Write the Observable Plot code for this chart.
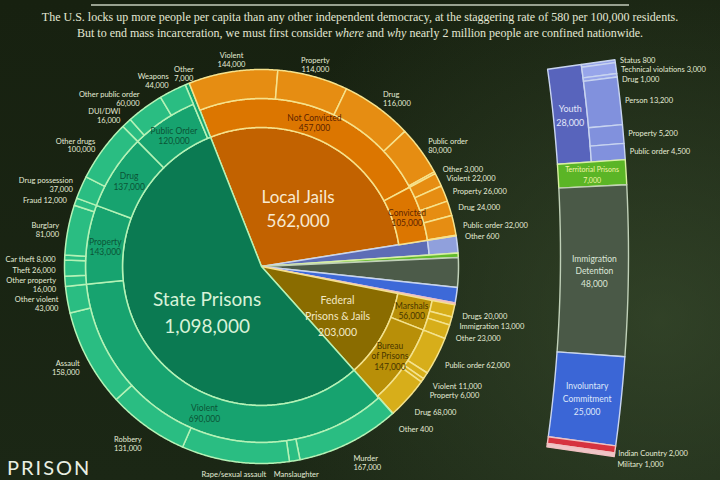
<!DOCTYPE html>
<html>
<head>
<meta charset="utf-8">
<script src="https://cdn.jsdelivr.net/npm/d3@7"></script>
<script src="https://cdn.jsdelivr.net/npm/@observablehq/plot@0.6"></script>
<style>
  html, body { margin: 0; padding: 0; background: #151d11; }
  #chart {
    position: relative; width: 720px; height: 480px; overflow: hidden;
    background:
      radial-gradient(ellipse 430px 400px at 660px 320px, rgba(64,84,52,0.6), rgba(64,84,52,0) 100%),
      linear-gradient(180deg, #172110 0%, #1b2715 100%);
  }
  #chart > svg { position: absolute; left: 0; top: 0; }
  #head { position: absolute; left: 0; top: 0; width: 720px; text-align: center;
    font-family: "Liberation Serif", "DejaVu Serif", serif; font-size: 12px; line-height: 16px; color: #e3e7d4; }
  #head .rule { margin: 4px auto 0; width: 538px; height: 2px; background: #98a190; }
  #head p { margin: 0; }
  #head p.first { margin-top: 3px; }
  #brand { position: absolute; left: 7px; top: 455px; font-family: Lato, sans-serif; font-size: 20px;
    letter-spacing: 2px; color: #e9efe2; }
</style>
</head>
<body>
<div id="chart">
  <div id="head">
    <div class="rule"></div>
    <p class="first">The U.S. locks up more people per capita than any other independent democracy, at the staggering rate of 580 per 100,000 residents.</p>
    <p>But to end mass incarceration, we must first consider <i>where</i> and <i>why</i> nearly 2 million people are confined nationwide.</p>
  </div>
  <div id="brand">PRISON</div>
</div>
<script>
const fmt = d3.format(",");

// ---------- data ----------
// Where people are confined, clockwise from the top of the pie
const facilities = ["Local Jails", "Youth", "Territorial Prisons", "Immigration Detention",
  "Involuntary Commitment", "Indian Country", "Military", "Federal Prisons & Jails", "State Prisons"];
const facilityCounts = [562000, 28000, 7000, 48000, 25000, 2000, 1000, 203000, 1098000];

// Middle ring: conviction status, holding authority or offense type
const groupFacilities = ["Local Jails", "Local Jails", "Federal Prisons & Jails", "Federal Prisons & Jails",
  "State Prisons", "State Prisons", "State Prisons", "State Prisons", "State Prisons"];
const groupNames = ["Not Convicted", "Convicted", "Marshals", "Bureau of Prisons",
  "Violent", "Property", "Drug", "Public Order", "Other"];
const groupCounts = [457000, 105000, 56000, 147000, 690000, 143000, 137000, 120000, 7000];

// Outer ring: offenses
const offenseGroups = [
  "Not Convicted", "Not Convicted", "Not Convicted", "Not Convicted", "Not Convicted",
  "Convicted", "Convicted", "Convicted", "Convicted", "Convicted",
  "Marshals", "Marshals", "Marshals",
  "Bureau of Prisons", "Bureau of Prisons", "Bureau of Prisons", "Bureau of Prisons", "Bureau of Prisons",
  "Violent", "Violent", "Violent", "Violent", "Violent", "Violent",
  "Property", "Property", "Property", "Property", "Property",
  "Drug", "Drug",
  "Public Order", "Public Order", "Public Order"];
const offenseNames = [
  "Violent", "Property", "Drug", "Public order", "Other",
  "Violent", "Property", "Drug", "Public order", "Other",
  "Drugs", "Immigration", "Other",
  "Public order", "Violent", "Property", "Drug", "Other",
  "Murder", "Manslaughter", "Rape/sexual assault", "Robbery", "Assault", "Other violent",
  "Other property", "Theft", "Car theft", "Burglary", "Fraud",
  "Drug possession", "Other drugs",
  "DUI/DWI", "Other public order", "Weapons"];
const offenseCounts = [
  144000, 114000, 116000, 80000, 3000,
  22000, 26000, 24000, 32000, 600,
  20000, 13000, 23000,
  62000, 11000, 6000, 68000, 400,
  167000, 17000, 174000, 131000, 158000, 43000,
  16000, 26000, 8000, 81000, 12000,
  37000, 100000,
  16000, 60000, 44000];

// Youth facilities by offense
const youthOffenses = ["Status", "Technical violations", "Drug", "Person", "Property", "Public order"];
const youthCounts = [800, 3000, 1000, 13200, 5200, 4500];

// ---------- look ----------
const CX = 261, CY = 266;          // pie centre
const R_IN = 139, R_OUT = 197;     // inner pie and outer edge
const LABEL_R = 206;               // radius of the outside labels
const START = -21.5;               // degrees clockwise from 12 o'clock
const H = 480;

const look = {
  "State Prisons":          {inner: "#0b7a52", mid: "#17a36f", outer: "#2abd82", line: "#b4f2b6", ink: "#0b5436", text: "#d8f2d8", size: 19, lr: 0.46, dy: 11, lh: 1.4, rMid: 176},
  "Local Jails":            {inner: "#c26200", mid: "#dc7600", outer: "#e68d12", line: "#f6e28c", ink: "#5c2400", text: "#f8ead2", size: 17, lr: 0.53, dy: 5, lh: 1.4, rMid: 168},
  "Federal Prisons & Jails":{inner: "#8a6c00", mid: "#b88f08", outer: "#d7ae1a", line: "#f3e28e", ink: "#473600", text: "#f3e9c4", size: 10.5, lr: 0.63, dy: 5, lh: 1.5, rMid: 174},
  "Youth":                  {inner: "#5d6db6", outer: "#90a0dc", line: "#c8d4f0", bar: "#5864bc", sub: "#8191dd", subLight: "#97a5ea", text: "#e2e6fa"},
  "Territorial Prisons":    {inner: "#62bb2c", line: "#d8f0a0", bar: "#5bb526", text: "#f2f4a6"},
  "Immigration Detention":  {inner: "#4c5b49", line: "#c0d0b8", bar: "#4a5947", text: "#dde6d8"},
  "Involuntary Commitment": {inner: "#3d69d8", line: "#c8d4f0", bar: "#3b66d6", text: "#dfe6fa"},
  "Indian Country":         {inner: "#d4343e", line: "#f0c0c0", bar: "#d6333f"},
  "Military":               {inner: "#e8b0b4", line: "#f0c0c0", bar: "#efc6c8"}
};
const wrapped = {
  "Bureau of Prisons": "Bureau\nof Prisons",
  "Federal Prisons & Jails": "Federal\nPrisons & Jails",
  "Immigration Detention": "Immigration\nDetention",
  "Involuntary Commitment": "Involuntary\nCommitment"
};
const display = (n) => wrapped[n] ?? n;
// offense labels set on one line
const inlineLabels = new Set([
  "Not Convicted|Other", "Convicted|Violent", "Convicted|Property", "Convicted|Drug", "Convicted|Public order",
  "Convicted|Other", "Marshals|Drugs", "Marshals|Immigration", "Marshals|Other",
  "Bureau of Prisons|Public order", "Bureau of Prisons|Violent", "Bureau of Prisons|Property",
  "Bureau of Prisons|Drug", "Bureau of Prisons|Other", "Property|Theft", "Property|Car theft", "Property|Fraud"]);

// ---------- layout ----------
const rad = (d) => d * Math.PI / 180;
const total = d3.sum(facilityCounts);
const toAngle = d3.scaleLinear([0, total], [START, START + 360]);

let acc = 0;
const facCells = facilities.map((name, i) => {
  const a0 = toAngle(acc); acc += facilityCounts[i];
  return {name, value: facilityCounts[i], a0, a1: toAngle(acc)};
});
function subdivide(parent, names, values) {
  const sum = d3.sum(values); let c = 0;
  return names.map((name, i) => {
    const a0 = parent.a0 + (parent.a1 - parent.a0) * c / sum; c += values[i];
    return {name, value: values[i], a0, a1: parent.a0 + (parent.a1 - parent.a0) * c / sum, parent};
  });
}
const groupCells = facCells.flatMap((f) => {
  const idx = d3.range(groupNames.length).filter((i) => groupFacilities[i] === f.name);
  return idx.length ? subdivide(f, idx.map((i) => groupNames[i]), idx.map((i) => groupCounts[i])) : [];
});
const offenseCells = groupCells.flatMap((g) => {
  const idx = d3.range(offenseNames.length).filter((i) => offenseGroups[i] === g.name);
  return idx.length ? subdivide(g, idx.map((i) => offenseNames[i]), idx.map((i) => offenseCounts[i])) : [];
});
const hasOffenses = new Set(offenseCells.map((o) => o.parent.name));
const ringed = new Set(groupCells.map((g) => g.parent.name));

const polar = (a, r) => [CX + r * Math.sin(rad(a)), CY - r * Math.cos(rad(a))];
function sector(id, a0, a1, r0, r1, fill, stroke) {
  const n = Math.max(2, Math.ceil((a1 - a0) / 0.4)), pts = [];
  for (let k = 0; k <= n; k++) pts.push(polar(a0 + (a1 - a0) * k / n, r1));
  if (r0 > 0) for (let k = n; k >= 0; k--) pts.push(polar(a0 + (a1 - a0) * k / n, r0));
  else pts.push([CX, CY]);
  return pts.map(([x, y]) => ({id, x, y, fill, stroke}));
}

const shapes = [];
for (const f of facCells) {
  const s = look[f.name];
  if (ringed.has(f.name)) shapes.push(...sector("f" + f.name, f.a0, f.a1, 0, R_IN, s.inner, s.line));
  else if (s.outer) {
    shapes.push(...sector("f" + f.name, f.a0, f.a1, 0, 168, s.inner, s.line));
    shapes.push(...sector("o" + f.name, f.a0, f.a1, 168, R_OUT, s.outer, s.line));
  } else shapes.push(...sector("f" + f.name, f.a0, f.a1, 0, R_OUT, s.inner, s.line));
}
groupCells.forEach((g, i) => {
  const s = look[g.parent.name];
  shapes.push(...sector("g" + i, g.a0, g.a1, R_IN, hasOffenses.has(g.name) ? s.rMid : R_OUT, s.mid, s.line));
});
offenseCells.forEach((o, i) => {
  const s = look[o.parent.parent.name];
  shapes.push(...sector("o" + i, o.a0, o.a1, s.rMid, R_OUT, s.outer, s.line));
});

// ---------- labels round the pie ----------
function outside(cell, inline) {
  const m = (cell.a0 + cell.a1) / 2;
  const dx = Math.sin(rad(m)), dy = -Math.cos(rad(m));
  const [x, y0] = polar(m, LABEL_R);
  const anchor = Math.abs(dx) < 0.4 ? "middle" : dx > 0 ? "start" : "end";
  let y = y0 + Math.max(0, dy) ** 2 * 12 - Math.max(0, -dy) ** 2 * 5 + 2;
  let text = inline ? `${cell.name} ${fmt(cell.value)}` : `${cell.name}\n${fmt(cell.value)}`;
  // a two-line label running off the bottom keeps only its name
  if (!inline && y + 9 > H) { text = cell.name; y = Math.min(y - 4.5, H - 6); inline = true; }
  return {m, x, y, anchor, h: inline ? 8 : 17, text};
}
const outLabels = [
  ...offenseCells.map((o) => outside(o, inlineLabels.has(o.parent.name + "|" + o.name))),
  ...groupCells.filter((g) => !hasOffenses.has(g.name)).map((g) => outside(g, false))
];
function dodge(list, dir) {
  for (let i = 1; i < list.length; i++) {
    const p = list[i - 1], q = list[i], gap = (p.h + q.h) / 2 + 0.5;
    if (dir > 0 && q.y < p.y + gap) q.y = p.y + gap;
    if (dir < 0 && q.y > p.y - gap) q.y = p.y - gap;
  }
}
dodge(outLabels.filter((d) => d.anchor === "start").sort((a, b) => a.m - b.m), +1);
dodge(outLabels.filter((d) => d.anchor === "end").sort((a, b) => a.m - b.m), -1);

const ringLabels = groupCells.filter((g) => hasOffenses.has(g.name)).map((g) => {
  const s = look[g.parent.name];
  const [x, y] = polar((g.a0 + g.a1) / 2, (R_IN + s.rMid) / 2);
  return {x, y, text: `${display(g.name)}\n${fmt(g.value)}`, color: s.ink};
});
const coreLabels = facCells.filter((f) => ringed.has(f.name)).map((f) => {
  const s = look[f.name];
  const [x, y] = polar((f.a0 + f.a1) / 2, R_IN * s.lr);
  return {x, y: y + s.dy, text: `${display(f.name)}\n${fmt(f.value)}`, color: s.text, size: s.size, lh: s.lh};
});

// ---------- the smaller facilities, drawn as a pulled-out curved bar ----------
const BAR = {cx: -790, cy: 255, r0: 1350, r1: 1418};
const barR = (BAR.r0 + BAR.r1) / 2, barSplit = (BAR.r0 + BAR.r1) / 2;
const others = facCells.filter((f) => !ringed.has(f.name));
const barTotal = d3.sum(others, (d) => d.value);
const barTop = Math.asin((64 - BAR.cy) / barR);
const toBar = d3.scaleLinear([0, barTotal], [barTop, barTop + barTotal * 3.5 / 1000 / barR]);
const barPt = (t, r) => [BAR.cx + r * Math.cos(t), BAR.cy + r * Math.sin(t)];
function band(id, t0, t1, r0, r1, fill, stroke) {
  const n = 12, pts = [];
  for (let k = 0; k <= n; k++) pts.push(barPt(t0 + (t1 - t0) * k / n, r1));
  for (let k = n; k >= 0; k--) pts.push(barPt(t0 + (t1 - t0) * k / n, r0));
  return pts.map(([x, y]) => ({id, x, y, fill, stroke}));
}
const barShapes = [], barInside = [], barOutside = [];
let bacc = 0;
others.forEach((f) => {
  const s = look[f.name];
  const t0 = toBar(bacc); bacc += f.value; const t1 = toBar(bacc);
  const tm = (t0 + t1) / 2;
  if (f.name === "Youth") {
    barShapes.push(...band("bYouth", t0, t1, BAR.r0, barSplit, s.bar, s.line));
    const sum = d3.sum(youthCounts); let c = 0;
    youthOffenses.forEach((name, i) => {
      const u0 = t0 + (t1 - t0) * c / sum; c += youthCounts[i]; const u1 = t0 + (t1 - t0) * c / sum;
      barShapes.push(...band("bY" + i, u0, u1, barSplit, BAR.r1, youthCounts[i] < 4000 ? s.subLight : s.sub, s.line));
      const [x, y] = barPt((u0 + u1) / 2, BAR.r1 + 5);
      barOutside.push({x, y, h: 9, text: `${name} ${fmt(youthCounts[i])}`});
    });
    const [x, y] = barPt(tm, (BAR.r0 + barSplit) / 2);
    barInside.push({x, y, text: `${f.name}\n${fmt(f.value)}`, color: s.text, size: 9});
  } else {
    barShapes.push(...band("b" + f.name, t0, t1, BAR.r0, BAR.r1, s.bar, s.line));
    if (s.text) {
      const [x, y] = barPt(tm, barR);
      barInside.push({x, y, text: `${display(f.name)}\n${fmt(f.value)}`, color: s.text,
        size: f.name === "Territorial Prisons" ? 7 : 8.5});
    } else {
      const [x, y] = barPt(tm, BAR.r1 + 3);
      barOutside.push({x, y: y + 4, h: 10, text: `${f.name} ${fmt(f.value)}`});
    }
  }
});
dodge(barOutside, +1);

// ---------- plot ----------
const LABEL = "#e4ecd6";
const textMarks = (data, anchor) => Plot.text(data.filter((d) => d.anchor === anchor), {
  x: "x", y: "y", text: "text", textAnchor: anchor, fill: LABEL, fontSize: 7.5, lineHeight: 1.2
});

const svg = Plot.plot({
  width: 720, height: H, margin: 0,
  x: {type: "identity", axis: null},
  y: {type: "identity", axis: null},
  color: {type: "identity"},
  style: {background: "transparent", fontFamily: "Lato, 'Open Sans', sans-serif", overflow: "hidden"},
  marks: [
    Plot.line(shapes, {x: "x", y: "y", z: "id", fill: "fill", stroke: "stroke", strokeWidth: 1.5,
      strokeLinejoin: "round", curve: "linear-closed"}),
    Plot.line(barShapes, {x: "x", y: "y", z: "id", fill: "fill", stroke: "stroke", strokeWidth: 1.4,
      strokeLinejoin: "round", curve: "linear-closed"}),
    textMarks(outLabels, "start"),
    textMarks(outLabels, "end"),
    textMarks(outLabels, "middle"),
    Plot.text(ringLabels, {x: "x", y: "y", text: "text", fill: "color", fontSize: 8.5, lineHeight: 1.25}),
    Plot.text(coreLabels.filter((d) => d.lh === 1.4), {x: "x", y: "y", text: "text", fill: "color", fontSize: (d) => d.size, lineHeight: 1.4}),
    Plot.text(coreLabels.filter((d) => d.lh !== 1.4), {x: "x", y: "y", text: "text", fill: "color", fontSize: (d) => d.size, lineHeight: 1.5}),
    Plot.text(barInside, {x: "x", y: "y", text: "text", fill: "color", fontSize: (d) => d.size, lineHeight: 1.5}),
    Plot.text(barOutside, {x: "x", y: "y", text: "text", textAnchor: "start", fill: LABEL, fontSize: 7.5})
  ]
});
document.getElementById("chart").prepend(svg);
</script>
</body>
</html>
